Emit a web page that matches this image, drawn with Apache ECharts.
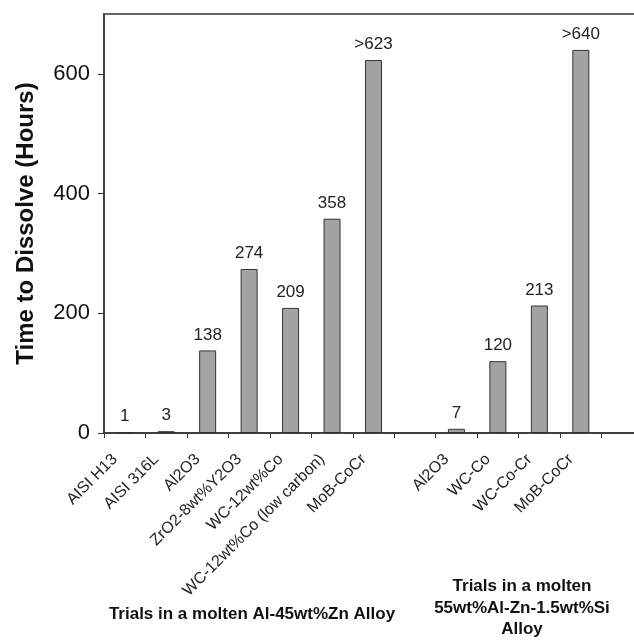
<!DOCTYPE html>
<html>
<head>
<meta charset="utf-8">
<script src="https://cdn.jsdelivr.net/npm/echarts@6/dist/echarts.min.js"></script>
<style>html,body{margin:0;padding:0;background:#fff;}#c{width:634px;height:640px;}</style>
</head>
<body>
<div id="c"></div>
<script>
var categories = ['AISI H13', 'AISI 316L', 'Al2O3', 'ZrO2-8wt%Y2O3', 'WC-12wt%Co', 'WC-12wt%Co (low carbon)', 'MoB-CoCr', '', 'Al2O3', 'WC-Co', 'WC-Co-Cr', 'MoB-CoCr', ''];
var values = [1, 3, 138, 274, 209, 358, 623, null, 7, 120, 213, 640, null];
var valueLabels = ['1', '3', '138', '274', '209', '358', '>623', '', '7', '120', '213', '>640', ''];
var yTicks = [0, 200, 400, 600];
var yTitle = 'Time to Dissolve (Hours)';
var groupTitle1 = 'Trials in a molten Al-45wt%Zn Alloy';
var groupTitle2 = 'Trials in a molten\n55wt%Al-Zn-1.5wt%Si\nAlloy';

var chart = echarts.init(document.getElementById('c'));
var font = 'Liberation Sans, Arial, sans-serif';
chart.setOption({
  animation: false,
  backgroundColor: '#fff',
  grid: { left: 104, top: 14, width: 539, height: 419, outerBoundsMode: 'none', show: true, borderColor: '#666', borderWidth: 2, backgroundColor: 'transparent' },
  xAxis: {
    type: 'category',
    data: categories,
    axisLine: { lineStyle: { color: '#333', width: 1.5 } },
    axisTick: { show: true, length: 5, lineStyle: { color: '#333' }, alignWithLabel: false },
    axisLabel: { rotate: 45, interval: 0, margin: 14, fontSize: 16, color: '#222', fontFamily: font, padding: [0, 14, 0, 0] },
    splitLine: { show: false }
  },
  yAxis: {
    type: 'value',
    min: 0, max: 700, interval: 200,
    name: yTitle,
    nameLocation: 'middle',
    nameGap: 66,
    nameTextStyle: { fontSize: 24, fontWeight: 'bold', color: '#111', fontFamily: font },
    axisLine: { show: true, lineStyle: { color: '#333', width: 1.5 } },
    axisTick: { show: true, length: 6, lineStyle: { color: '#333' }, customValues: yTicks },
    axisLabel: { fontSize: 22, color: '#111', margin: 14, fontFamily: font, customValues: yTicks },
    splitLine: { show: false }
  },
  series: [{
    type: 'bar',
    data: values,
    barWidth: 17,
    itemStyle: { color: '#a3a3a3', borderColor: '#333', borderWidth: 1 },
    label: {
      show: true, position: 'top', distance: 7, fontSize: 17, color: '#222', fontFamily: font,
      formatter: function (p) { return valueLabels[p.dataIndex]; }
    }
  }],
  graphic: [
    { type: 'text', x: 252, y: 606, style: { text: groupTitle1, font: 'bold 17px ' + font, fill: '#111', align: 'center' } },
    { type: 'text', x: 522, y: 576, style: { text: groupTitle2, font: 'bold 17px ' + font, fill: '#111', align: 'center', lineHeight: 21.5 } }
  ]
});
</script>
</body>
</html>
